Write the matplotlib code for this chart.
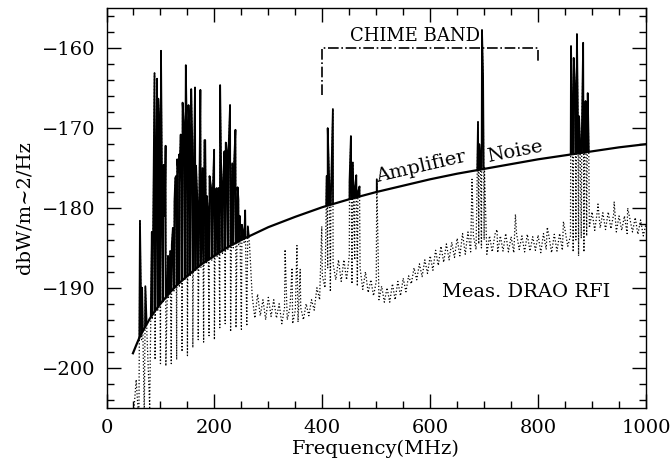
import numpy as np
import matplotlib
matplotlib.use("Agg")
import matplotlib.pyplot as plt
from matplotlib.patches import Polygon
from matplotlib.ticker import MultipleLocator

plt.rcParams["font.family"] = "DejaVu Serif"
plt.rcParams["font.size"] = 14

# amplifier noise curve
noise_freq = [49, 55, 60, 65, 70, 80, 90, 100, 110, 120, 130, 140, 150, 175, 200,
              225, 250, 275, 300, 350, 400, 450, 500, 550, 600, 650, 700, 750,
              800, 850, 900, 950, 1000]
noise_db = [-198.2, -197.2, -196.4, -195.7, -195.1, -193.9, -192.9, -192.0, -191.2,
            -190.4, -189.7, -189.1, -188.5, -187.1, -186.0, -184.9, -184.0, -183.2,
            -182.4, -181.1, -179.9, -178.9, -178.0, -177.2, -176.4, -175.7, -175.1,
            -174.5, -173.9, -173.4, -172.9, -172.4, -172.0]

# measured DRAO RFI, 5 MHz channels from 50 to 1000 MHz
chan_freq = list(range(50, 1001, 5))
chan_db = [
    -206, -201.5, -207, -196.5, -206, -195.8, -205, -193.8, -199, -192.8,
    -199.5, -191.9, -199.8, -191.2, -199.5, -190.4, -199, -189.8, -198, -189.1,
    -198.5, -188.6, -197.5, -188.0, -196.5, -187.5, -196.8, -187.0, -196, -186.6,
    -196.5, -186.1, -195, -185.7, -194.5, -185.3, -195.5, -185.0, -195, -184.6,
    -195.2, -184.3, -194.8, -184.5, -191, -193.8, -190.8, -193.5, -191.5, -194,
    -191.2, -193.6, -191.5, -193.8, -192, -194.5, -192.5, -194, -192.5, -194.5,
    -192.8, -194.3, -192.5, -194, -192, -193.5, -191.5, -192.8, -190, -191.5,
    -188.5, -190, -187.5, -190.5, -187, -189, -186.5, -189.2, -186.5, -189,
    -186, -189.5, -186.5, -189.8, -187.5, -190.2, -188, -190.6, -189, -191,
    -189.2, -191.5, -189.8, -191.8, -190, -191.8, -189.5, -191.5, -189.2, -191,
    -188.8, -190.5, -188.5, -189.5, -187.5, -189, -187, -188.6, -186.5, -188.2,
    -186, -187.8, -185.3, -187.2, -184.8, -186.8, -184.5, -186.5, -184.3, -186.2,
    -183.8, -186, -183.2, -185.8, -183, -185.5, -183.5, -185.2, -184.5, -185,
    -184, -185.8, -183.5, -185.5, -183.3, -185.6, -183.5, -185.4, -183.2, -185.5,
    -183.6, -185.6, -183.2, -185.2, -183.5, -185.5, -183.3, -185.4, -183.6, -185.3,
    -183.4, -185.6, -183.2, -185.2, -183.5, -185.6, -183.3, -185.4, -183.2, -185.3,
    -182.8, -184.8, -183.5, -185.5, -184, -186, -183.8, -185.5, -183.5, -182.5,
    -180.5, -182.8, -180.3, -182.5, -180.6, -182.7, -180.5, -182.6, -180.8, -183,
    -181, -182.8, -181, -183.2, -181.3, -183, -181.2, -183.3, -181.5, -183.5,
    -182,
]

# narrow RFI lines (peak frequency, peak level)
spike_freq = [62, 66, 72, 84, 89, 92, 93.7, 96, 98, 101, 103, 106, 108, 109.5,
              114, 118, 121, 123, 126, 127.5, 129, 131, 133, 134.5, 136, 137.5,
              139.5, 141, 143.8, 147, 149, 152, 154, 157, 159, 161.5, 164, 166,
              169, 172, 174, 178, 181.5, 183, 186, 188, 191, 194, 197, 199.5, 202,
              204, 207.5, 210.6, 213, 216, 218.6, 221, 221.7, 223, 226, 229, 233,
              236.5, 239, 243, 244.5, 247, 251, 254, 257, 262,
              331, 344, 353, 359, 399, 408, 410, 413, 416, 419.6,
              450.5, 453, 456.6, 460.5, 463, 466, 469, 501,
              677.5, 688.6, 691, 693, 696, 698, 700.5, 724, 758, 817, 847,
              861, 863.5, 866, 869, 872, 874, 876, 878, 881, 883.5, 886, 888,
              892, 894, 911, 941, 966]
spike_db = [-181.6, -190.0, -189.8, -183.0, -163.1, -175.0, -163.8, -166.3, -169.7,
            -160.3, -178.0, -174.6, -181.0, -172.2, -186.0, -185.4, -184.6, -182.5,
            -179.1, -176.2, -176.0, -173.9, -175.4, -173.3, -173.8, -170.8, -177.0,
            -166.8, -170.0, -162.1, -171.4, -167.1, -171.0, -165.1, -171.8, -179.0,
            -164.9, -174.7, -180.0, -178.0, -165.2, -175.0, -171.5, -171.5, -178.5,
            -180.4, -176.0, -177.5, -178.0, -172.7, -178.0, -177.5, -177.5, -164.6,
            -178.0, -176.8, -172.9, -171.8, -171.9, -173.0, -173.1, -167.1, -174.4,
            -174.4, -170.2, -177.4, -178.9, -181.0, -182.1, -183.5, -180.3, -182.3,
            -185.2, -187.5, -184.7, -187.7, -182.3, -176.0, -170.0, -177.0, -178.5,
            -167.6,
            -176.6, -171.0, -174.3, -177.5, -175.9, -178.0, -177.3, -176.4,
            -176.4, -169.2, -172.0, -174.0, -157.7, -163.4, -175.0, -182.7, -180.8,
            -182.4, -181.7,
            -159.7, -170.0, -161.2, -165.6, -158.2, -170.0, -168.5, -172.2, -171.0,
            -159.3, -172.0, -166.6, -165.6, -173.0, -179.5, -179.2, -180.0]

chime_band = [400, 800]

freq = np.concatenate([chan_freq, spike_freq]).astype(float)
level = np.concatenate([chan_db, spike_db]).astype(float)
order = np.argsort(freq, kind="stable")
freq = freq[order]
level = level[order]

fig = plt.figure(figsize=(6.72, 4.66), dpi=100)
ax = fig.add_axes([0.1585, 0.1255, 0.8028, 0.8563])

# full spectrum dotted
ax.plot(freq, level, color="black", linestyle=":", linewidth=0.9)

# part of the spectrum above the amplifier noise drawn solid
above = list(zip(noise_freq, noise_db)) + [(1000, -150), (noise_freq[0], -150)]
clip = Polygon(above, closed=True, transform=ax.transData)
solid, = ax.plot(freq, level, color="black", linestyle="-", linewidth=1.3)
solid.set_clip_path(clip)

ax.plot(noise_freq, noise_db, color="black", linewidth=1.6)

# CHIME band marker
ax.plot([chime_band[0], chime_band[0], chime_band[1], chime_band[1]],
        [-165.8, -160, -160, -161.7], color="black", linestyle="-.", linewidth=1.2)
ax.text(571, -158.4, "CHIME BAND", ha="center", va="center", fontsize=13)

ax.text(502, -176.7, "Amplifier", rotation=13, rotation_mode="anchor",
        ha="left", va="baseline", fontsize=14)
ax.text(708, -174.2, "Noise", rotation=11, rotation_mode="anchor",
        ha="left", va="baseline", fontsize=14)
ax.text(622, -191.2, "Meas. DRAO RFI", ha="left", va="baseline", fontsize=14)

ax.set_xlim(0, 1000)
ax.set_ylim(-205, -155)
ax.xaxis.set_major_locator(MultipleLocator(200))
ax.xaxis.set_minor_locator(MultipleLocator(50))
ax.yaxis.set_major_locator(MultipleLocator(10))
ax.yaxis.set_minor_locator(MultipleLocator(2))
ax.tick_params(which="both", direction="in", top=True, right=True, width=1)
ax.tick_params(which="major", length=10, pad=8)
ax.tick_params(which="minor", length=5)
for s in ax.spines.values():
    s.set_linewidth(1)

ax.set_xlabel("Frequency(MHz)", labelpad=2)
ax.set_ylabel("dbW/m~2/Hz", labelpad=6)

fig.savefig("out.png", dpi=100)
